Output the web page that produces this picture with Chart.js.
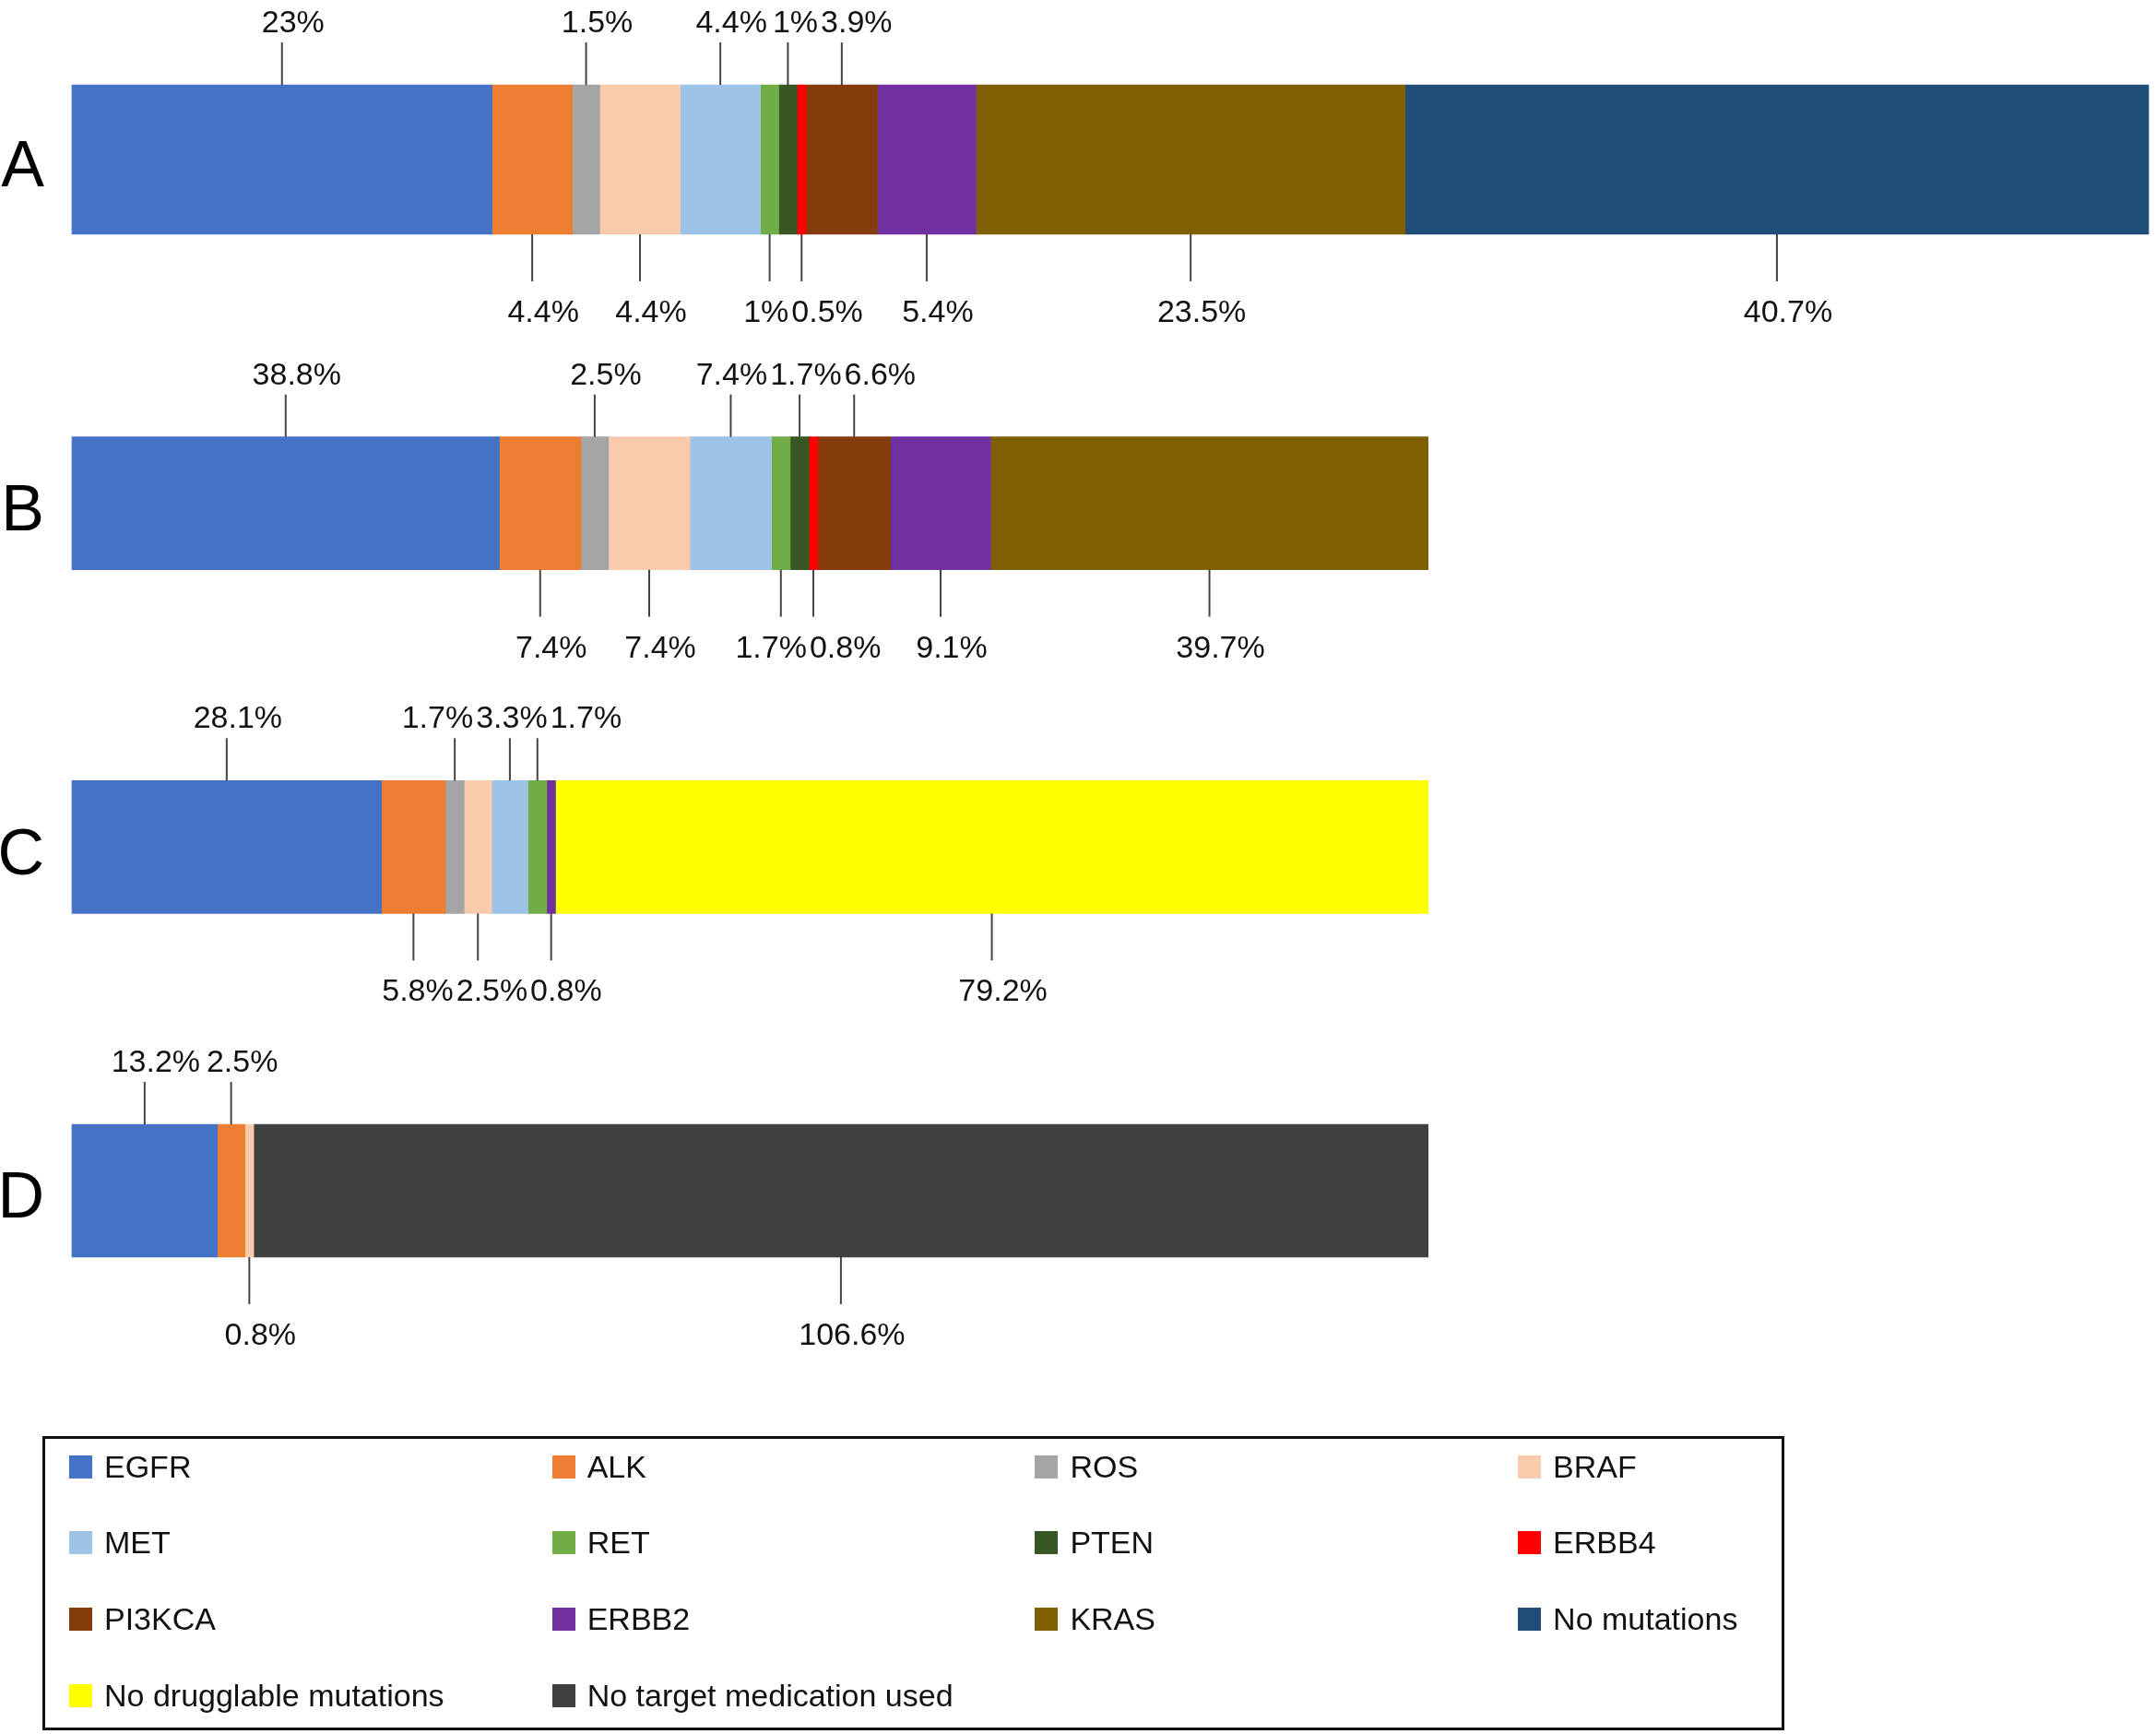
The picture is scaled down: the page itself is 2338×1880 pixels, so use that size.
<!DOCTYPE html>
<html>
<head>
<meta charset="utf-8">
<script src="https://cdn.jsdelivr.net/npm/chart.js@4.4.1/dist/chart.umd.min.js"></script>
<style>
html,body{margin:0;padding:0;background:#fff;}
#wrap{position:relative;width:2338px;height:1880px;overflow:hidden;}
#c{position:absolute;left:0;top:0;}
#legend{position:absolute;left:46px;top:1557px;width:1883px;height:313px;border:3px solid #111;}
.li{position:absolute;display:flex;align-items:center;height:40px;font:34px "Liberation Sans",Arial,sans-serif;color:#111;white-space:nowrap;}
.sw{width:25px;height:25px;margin-right:13px;flex:none;}
</style>
</head>
<body>
<div id="wrap">
<canvas id="c" width="2338" height="1880"></canvas>
<div id="legend"></div>
</div>
<script>
// ---- data ----
const rows = ['A', 'B', 'C', 'D'];
const categories = ['EGFR', 'ALK', 'ROS', 'BRAF', 'MET', 'RET', 'PTEN', 'ERBB4',
  'PI3KCA', 'ERBB2', 'KRAS', 'No mutations', 'No drugglable mutations', 'No target medication used'];
const colors = ['#4472C4', '#ED7D31', '#A5A5A5', '#F8CBAD', '#9DC3E6', '#70AD47', '#375623', '#FF0000',
  '#843C0C', '#7030A0', '#7F6000', '#1F4E79', '#FFFF00', '#404040'];
const rowA = [23, 4.4, 1.5, 4.4, 4.4, 1, 1, 0.5, 3.9, 5.4, 23.5, 40.7, null, null];
const rowB = [38.8, 7.4, 2.5, 7.4, 7.4, 1.7, 1.7, 0.8, 6.6, 9.1, 39.7, null, null, null];
const rowC = [28.1, 5.8, 1.7, 2.5, 3.3, 1.7, null, null, null, 0.8, null, null, 79.2, null];
const rowD = [13.2, 2.5, null, 0.8, null, null, null, null, null, null, null, null, null, 106.6];

// ---- datasets ----
const sum = a => a.reduce((s, v) => s + (v || 0), 0);
const datasets = [];
categories.forEach((name, k) => {
  if (rowA[k] != null) datasets.push({
    label: name, data: [rowA[k], null, null, null], backgroundColor: colors[k],
    xAxisID: 'xa', barThickness: 162, grouped: false, borderWidth: 0, clip: false
  });
});
categories.forEach((name, k) => {
  const d = [null, rowB[k], rowC[k], rowD[k]];
  if (d.some(v => v != null)) datasets.push({
    label: name, data: d, backgroundColor: colors[k],
    xAxisID: 'xb', barThickness: 144, grouped: false, borderWidth: 0, clip: false
  });
});

// ---- callout labels plugin ----
const callouts = {
  id: 'callouts',
  afterDatasetsDraw(chart, args, o) {
    const ctx = chart.ctx;
    ctx.save();
    ctx.font = o.font;
    const groups = {};
    const counters = [0, 0, 0, 0];
    chart.data.datasets.forEach((ds, di) => {
      const meta = chart.getDatasetMeta(di);
      ds.data.forEach((v, i) => {
        if (v == null) return;
        const p = meta.data[i].getProps(['x', 'y', 'base', 'height'], true);
        const side = o.sides[i][counters[i]++];
        const cx = (p.x + p.base) / 2;
        const text = v + '%';
        const w = ctx.measureText(text).width;
        const key = i + side;
        (groups[key] = groups[key] || []).push({
          cx, top: p.y - p.height / 2, bot: p.y + p.height / 2, side, text, w, tx: cx + o.dx
        });
      });
    });
    Object.values(groups).forEach(g => {
      g.sort((a, b) => a.cx - b.cx);
      for (let it = 0; it < 100; it++) {
        let moved = false;
        for (let j = 1; j < g.length; j++) {
          const a = g[j - 1], b = g[j];
          const need = (a.w + b.w) / 2 + o.gap - (b.tx - a.tx);
          if (need > 0.1) { a.tx -= need / 2; b.tx += need / 2; moved = true; }
        }
        if (!moved) break;
      }
      g.forEach(l => {
        ctx.strokeStyle = o.lineColor;
        ctx.lineWidth = 2;
        ctx.beginPath();
        ctx.fillStyle = o.color;
        ctx.textAlign = 'center';
        ctx.textBaseline = 'alphabetic';
        if (l.side === 'u') {
          ctx.moveTo(l.cx, l.top);
          ctx.lineTo(l.cx, l.top - o.upLen);
          ctx.stroke();
          ctx.fillText(l.text, l.tx, l.top - o.upLen - o.upGap);
        } else {
          ctx.moveTo(l.cx, l.bot);
          ctx.lineTo(l.cx, l.bot + o.downLen);
          ctx.stroke();
          ctx.fillText(l.text, l.tx, l.bot + o.downLen + o.downGap);
        }
      });
    });
    ctx.restore();
  }
};

new Chart(document.getElementById('c'), {
  type: 'bar',
  data: { labels: rows, datasets },
  options: {
    indexAxis: 'y',
    responsive: false,
    animation: false,
    events: [],
    layout: { padding: { top: 173, bottom: 589, left: 0, right: 8 } },
    scales: {
      xa: { type: 'linear', position: 'top', display: false, stacked: true, min: 0, max: sum(rowA) },
      xb: { type: 'linear', position: 'bottom', display: false, stacked: true, min: 0, max: 188.5 },
      y: {
        type: 'category', stacked: true, offset: false,
        grid: { display: false, drawTicks: false },
        border: { display: false },
        ticks: { padding: 30, labelOffset: 10, color: '#000', font: { family: '"Liberation Sans", Arial, sans-serif', size: 70 } },
        afterFit(scale) { scale.width = 78; }
      }
    },
    plugins: {
      legend: { display: false },
      tooltip: { enabled: false },
      callouts: {
        font: '34px "Liberation Sans", Arial, sans-serif',
        color: '#111', lineColor: '#444',
        dx: 12, gap: 3,
        upLen: 46, upGap: 11, downLen: 51, downGap: 44,
        sides: ['udududududdd', 'udududududd', 'ududuudd', 'uudd']
      }
    }
  },
  plugins: [callouts]
});

// ---- legend ----
const leg = document.getElementById('legend');
categories.forEach((name, k) => {
  const col = k % 4, row = Math.floor(k / 4);
  const item = document.createElement('div');
  item.className = 'li';
  item.style.left = (26 + col * 523.7) + 'px';
  item.style.top = (30 + row * 82.7 - 20) + 'px';
  const sw = document.createElement('span');
  sw.className = 'sw';
  sw.style.background = colors[k];
  const tx = document.createElement('span');
  tx.textContent = name;
  item.appendChild(sw);
  item.appendChild(tx);
  leg.appendChild(item);
});
</script>
</body>
</html>
